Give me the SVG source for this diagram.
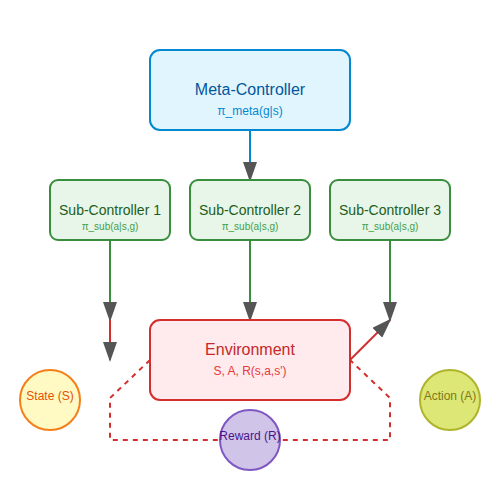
<svg xmlns="http://www.w3.org/2000/svg" width="500" height="500" viewBox="0 0 500 500">
<defs>
<marker id="arrow" markerWidth="10" markerHeight="7" refX="9" refY="3.5" orient="auto">
<polygon points="0 0, 10 3.5, 0 7" fill="#555"/>
</marker>
<style>
text{font-family:"Liberation Sans",Arial,sans-serif;text-anchor:middle}
.meta{fill:#e1f5fe;stroke:#0288d1;stroke-width:2}
.sub{fill:#e8f5e9;stroke:#388e3c;stroke-width:2}
.env{fill:#ffebee;stroke:#d32f2f;stroke-width:2}
.t16{font-size:16px}
.t14{font-size:14px}
.t12{font-size:12px}
.t10{font-size:10px}
</style>
</defs>
<g id="connectors">
<line x1="250" y1="130" x2="250" y2="180" stroke="#0288d1" stroke-width="2" marker-end="url(#arrow)"/>
<line x1="110" y1="240" x2="110" y2="320" stroke="#388e3c" stroke-width="2" marker-end="url(#arrow)"/>
<line x1="250" y1="240" x2="250" y2="320" stroke="#388e3c" stroke-width="2" marker-end="url(#arrow)"/>
<line x1="390" y1="240" x2="390" y2="320" stroke="#388e3c" stroke-width="2" marker-end="url(#arrow)"/>
<line x1="110" y1="320" x2="110" y2="360" stroke="#d32f2f" stroke-width="2" marker-end="url(#arrow)"/>
<line x1="350" y1="360" x2="390" y2="320" stroke="#d32f2f" stroke-width="2" marker-end="url(#arrow)"/>
<path d="M150,360 L110,398 L110,440 L390,440 L390,398 L350,360" fill="none" stroke="#d32f2f" stroke-width="2" stroke-dasharray="5,5"/>
</g>
<g id="meta-controller">
<rect class="meta" x="150" y="50" width="200" height="80" rx="10"/>
<text class="t16" x="250" y="95" fill="#01579b">Meta-Controller</text>
<text class="t12" x="250" y="115" fill="#0288d1">π_meta(g|s)</text>
</g>
<g id="sub-controller-1">
<rect class="sub" x="50" y="180" width="120" height="60" rx="8"/>
<text class="t14" x="110" y="215" fill="#1b5e20">Sub-Controller 1</text>
<text class="t10" x="110" y="230" fill="#43a047">π_sub(a|s,g)</text>
</g>
<g id="sub-controller-2">
<rect class="sub" x="190" y="180" width="120" height="60" rx="8"/>
<text class="t14" x="250" y="215" fill="#1b5e20">Sub-Controller 2</text>
<text class="t10" x="250" y="230" fill="#43a047">π_sub(a|s,g)</text>
</g>
<g id="sub-controller-3">
<rect class="sub" x="330" y="180" width="120" height="60" rx="8"/>
<text class="t14" x="390" y="215" fill="#1b5e20">Sub-Controller 3</text>
<text class="t10" x="390" y="230" fill="#43a047">π_sub(a|s,g)</text>
</g>
<g id="environment">
<rect class="env" x="150" y="320" width="200" height="80" rx="10"/>
<text class="t16" x="250" y="355" fill="#c62828">Environment</text>
<text class="t12" x="250" y="375" fill="#e53935">S, A, R(s,a,s')</text>
</g>
<g id="state">
<circle cx="50" cy="400" r="30" fill="#fff9c4" stroke="#f57f17" stroke-width="2"/>
<text class="t12" x="50" y="400" fill="#e65100">State (S)</text>
</g>
<g id="action">
<circle cx="450" cy="400" r="30" fill="#dce775" stroke="#afb42b" stroke-width="2"/>
<text class="t12" x="450" y="400" fill="#827717">Action (A)</text>
</g>
<g id="reward">
<circle cx="250" cy="440" r="30" fill="#d1c4e9" stroke="#7e57c2" stroke-width="2"/>
<text class="t12" x="250" y="440" fill="#4a148c">Reward (R)</text>
</g>
</svg>
